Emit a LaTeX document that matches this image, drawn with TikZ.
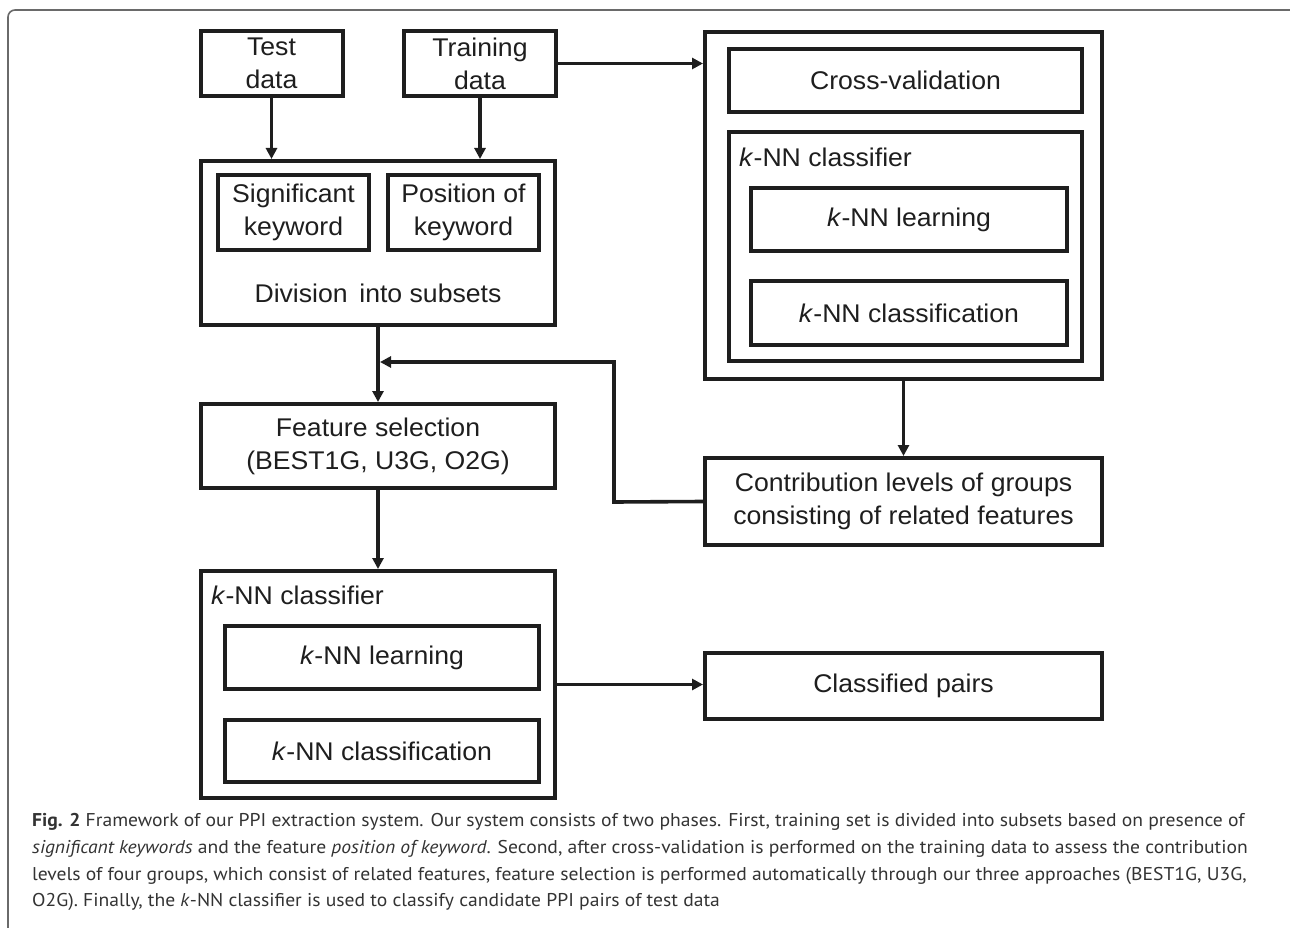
\documentclass[tikz,border=0pt]{standalone}
\usepackage{fontspec}
\setmainfont[FakeStretch=1.04]{Liberation Sans}
\newfontfamily\capfont[FakeStretch=1.06]{PT Sans}
\usetikzlibrary{arrows.meta}
\definecolor{ink}{HTML}{1E1E1E}
\definecolor{captxt}{HTML}{333333}
\definecolor{framec}{HTML}{6A6A6A}
\tikzset{
  box/.style={draw=ink, line width=4pt, inner sep=0pt, align=center, text=ink,
    font=\fontsize{25.6}{33}\selectfont},
  lbl/.style={inner sep=0pt, text=ink, font=\fontsize{25.6}{33}\selectfont},
  conn/.style={draw=ink, line width=3.6pt},
  arr/.style={conn, -{Triangle[length=11pt,width=11pt]}},
  capline/.style={anchor=base west, inner sep=0pt, text=captxt,
      font=\capfont\fontsize{18.5}{26}\selectfont},
}
\begin{document}
\begin{tikzpicture}[x=1pt,y=-1pt]
\useasboundingbox (0,0) rectangle (1290,928);
% outer frame
\draw[framec, line width=1.6pt, rounded corners=7pt] (8,940) -- (8,10) -- (1300,10);

% left column
\node[box, minimum width=142pt, minimum height=65pt] (test) at (271.5,63.5) {Test\\data};
\node[box, minimum width=152pt, minimum height=65pt] (train) at (480,63.5) {Training\\data};
\node[box, minimum width=354pt, minimum height=164pt] (div) at (378,243) {};
\node[box, minimum width=151pt, minimum height=75pt] (sig) at (293.5,212.5) {Significant\\keyword};
\node[box, minimum width=151pt, minimum height=75pt] (pos) at (463.5,212.5) {Position of\\keyword};
\node[lbl] (divlbl) at (378,293) {Division\, into subsets};
\node[box, minimum width=354pt, minimum height=84pt] (feat) at (378,446) {Feature selection\\(BEST1G, U3G, O2G)};
\node[box, minimum width=354pt, minimum height=227pt] (knnL) at (378,684.5) {};
\node[lbl, anchor=west] (knnLlbl) at (211,595) {\textit{k}-NN classifier};
\node[box, minimum width=314pt, minimum height=63pt] (learnL) at (382,657.5) {\textit{k}-NN learning};
\node[box, minimum width=314pt, minimum height=62pt] (classL) at (382,751) {\textit{k}-NN classification};

% right column
\node[box, minimum width=397pt, minimum height=347pt] (outer) at (903.5,205.5) {};
\node[box, minimum width=353pt, minimum height=63pt] (cross) at (905.5,80.5) {Cross-validation};
\node[box, minimum width=353pt, minimum height=229pt] (knnR) at (905.5,246.5) {};
\node[lbl, anchor=west] (knnRlbl) at (739,157) {\textit{k}-NN classifier};
\node[box, minimum width=316pt, minimum height=63pt] (learnR) at (909,219.5) {\textit{k}-NN learning};
\node[box, minimum width=316pt, minimum height=64pt] (classR) at (909,313) {\textit{k}-NN classification};
\node[box, minimum width=397pt, minimum height=87pt] (contrib) at (903.5,501.5) {Contribution levels of groups\\consisting of related features};
\node[box, minimum width=397pt, minimum height=66pt] (pairs) at (903.5,686) {Classified pairs};

% connectors
\draw[arr] (test.south) -- (test.south |- div.north);
\draw[arr] (train.south) -- (train.south |- div.north);
\draw[arr] (train.east) -- (train.east -| outer.west);
\draw[arr] (div.south) -- (feat.north);
\draw[arr] (feat.south) -- (knnL.north);
\draw[arr] (outer.south) -- (outer.south |- contrib.north);
\draw[arr] (knnL.east) -- (knnL.east -| pairs.west);
\coordinate (fbturn) at (614,502);
\coordinate (fbtip) at (380,362);
\draw[arr] (contrib.west) -- (fbturn) -- (fbturn |- fbtip) -- (fbtip);

% caption
\node[capline] (cap1) at (32,826) {\textbf{Fig. 2} Framework of our PPI extraction system. Our system consists of two phases. First, training set is divided into subsets based on presence of};
\node[capline] (cap2) at (32,853) {\textit{significant keywords} and the feature \textit{position of keyword}. Second, after cross-validation is performed on the training data to assess the contribution};
\node[capline] (cap3) at (32,880) {levels of four groups, which consist of related features, feature selection is performed automatically through our three approaches (BEST1G, U3G,};
\node[capline] (cap4) at (32,906) {O2G). Finally, the \textit{k}-NN classifier is used to classify candidate PPI pairs of test data};
\end{tikzpicture}
\end{document}
